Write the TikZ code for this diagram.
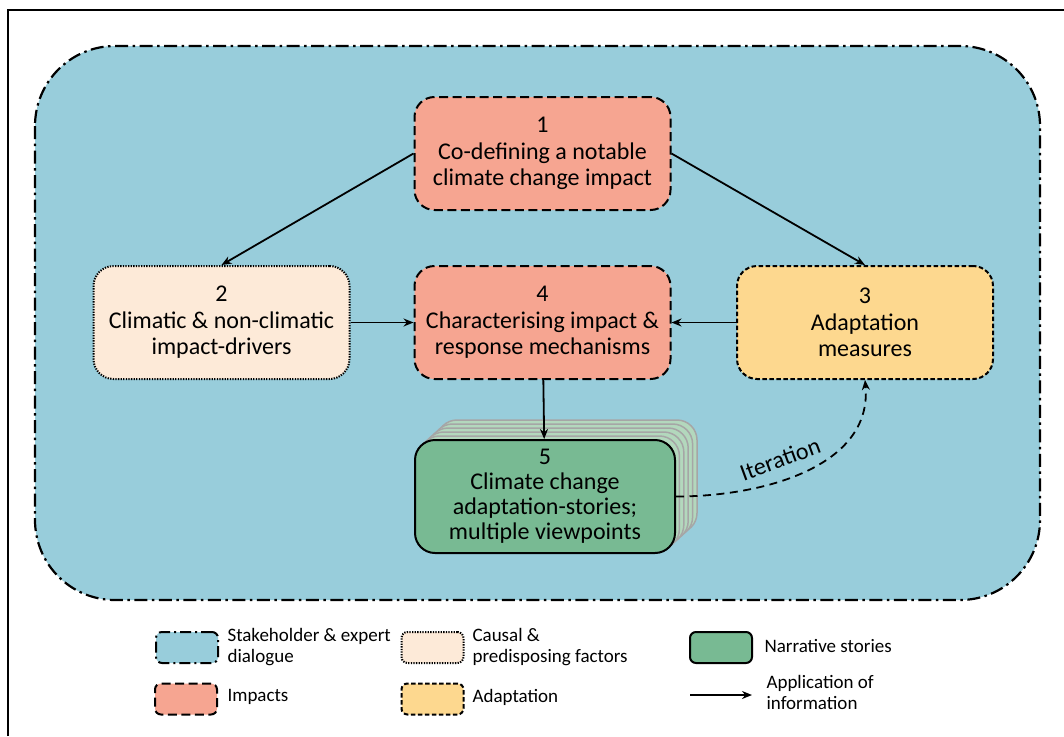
\documentclass[tikz,border=0pt]{standalone}
\usepackage{fontspec}
\setmainfont{Carlito}
\usetikzlibrary{arrows.meta}
\definecolor{dlgblue}{HTML}{98CDDB}
\definecolor{impred}{HTML}{F6A591}
\definecolor{causecream}{HTML}{FDEAD8}
\definecolor{adaptyellow}{HTML}{FDD88F}
\definecolor{storygreen}{HTML}{78BA93}
\definecolor{storylight}{HTML}{B3D8BD}

\tikzset{
  box/.style={rectangle, rounded corners=20pt, minimum width=256pt, minimum height=113pt,
    align=center, font=\fontsize{24}{26.5}\selectfont, line width=2pt, inner sep=2pt},
  impactbox/.style={box, draw=black, fill=impred, dash pattern=on 9pt off 4.5pt},
  causebox/.style={box, draw=black, fill=causecream, dash pattern=on 1.3pt off 1.3pt},
  adaptbox/.style={box, draw=black, fill=adaptyellow, dash pattern=on 4.5pt off 2.5pt},
  storybox/.style={box, draw=black, fill=storygreen},
  legbox/.style={rectangle, rounded corners=6pt, minimum width=62pt, minimum height=31pt, line width=2pt},
  legtext/.style={anchor=west, align=left, font=\fontsize{19}{21}\selectfont},
  info/.style={-{Stealth[length=10pt,width=8pt]}, line width=1.8pt}
}

\begin{document}
\begin{tikzpicture}[x=1pt, y=-1pt]
\useasboundingbox (0,0) rectangle (1064,736);

% Frame
\draw[line width=2.8pt] (8,736) -- (8,10) -- (1064,10);

% Dialogue area
\draw[fill=dlgblue, line width=2.2pt, rounded corners=80pt, dash pattern=on 13pt off 4.5pt on 2.5pt off 4.5pt]
  (35,46) rectangle (1040,600);

% Stacked stories
\foreach \k in {5,4,...,1}
  \draw[gray!70, fill=storylight, line width=1.5pt, rounded corners=20pt]
    (415+4.4*\k,440-4*\k) rectangle (675+4.4*\k,553-4*\k);

% Steps
\node[impactbox] (n1) at (542.5,153.5) {1\\Co-defining a notable\\climate change impact};
\node[causebox] (n2) at (221.5,322.5) {2\\Climatic \& non-climatic\\impact-drivers};
\node[impactbox] (n4) at (542.5,322.5) {4\\Characterising impact \&\\response mechanisms};
\node[adaptbox] (n3) at (865,322.5) {3\\Adaptation\\measures};
\node[storybox, minimum width=260pt, font=\fontsize{24}{25}\selectfont] (n5) at (545,496.5) {5\\Climate change\\adaptation-stories;\\multiple viewpoints};

\draw[info] (n1.west) -- (n2.north);
\draw[info] (n1.east) -- (n3.north);
\draw[info] (n2) -- (n4);
\draw[info] (n3) -- (n4);
\draw[info] (n4) -- (n5);

% Iteration
\draw[info, dash pattern=on 8pt off 5.5pt] (n5.east) to[out=0, in=-85]
  node[pos=0.42, above=8pt, sloped, font=\fontsize{24}{26}\selectfont] (iter) {Iteration} (n3.south);

% Legend
\node[legbox, draw=black, fill=dlgblue, dash pattern=on 11pt off 4pt on 2pt off 4pt] (ldlg) at (187,647.5) {};
\node[legtext] (tdlg) at (224,647) {Stakeholder \& expert\\dialogue};
\node[legbox, draw=black, fill=causecream, dash pattern=on 1.3pt off 1.3pt] (lcause) at (432.5,647.5) {};
\node[legtext] (tcause) at (469,647) {Causal \&\\predisposing factors};
\node[legbox, draw=black, fill=storygreen] (lstory) at (721,647.5) {};
\node[legtext] (tstory) at (761,646) {Narrative stories};

\node[legbox, draw=black, fill=impred, dash pattern=on 9pt off 4.5pt] (limp) at (186,699) {};
\node[legtext] (timp) at (224,697) {Impacts};
\node[legbox, draw=black, fill=adaptyellow, dash pattern=on 4.5pt off 2.5pt] (ladapt) at (432.5,699) {};
\node[legtext] (tadapt) at (469,697) {Adaptation};
\coordinate (la) at (690,695);
\coordinate (lb) at (752,695);
\draw[info] (la) -- (lb);
\node[legtext] (tinfo) at (763,692) {Application of\\information};
\end{tikzpicture}
\end{document}
